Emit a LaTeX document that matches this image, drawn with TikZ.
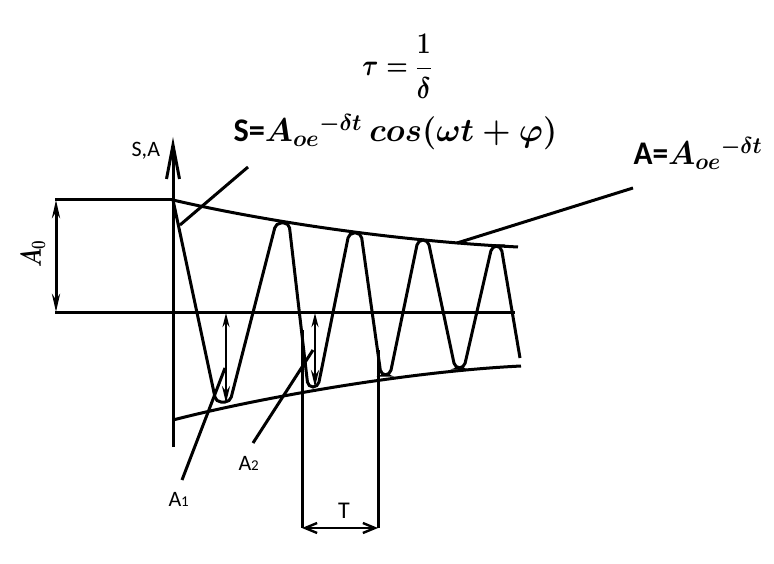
\RequirePackage{fix-cm}
\documentclass[tikz,border=0pt]{standalone}
\usepackage{fontspec}
\setmainfont{Carlito}
\usetikzlibrary{arrows.meta}
\newcommand\subdig[1]{{\fontsize{15}{15}\selectfont #1}}
\begin{document}
\begin{tikzpicture}[x=1pt, y=-1pt, line width=3pt,
    cota/.style={{Stealth[length=18pt,width=8pt]}-{Stealth[length=18pt,width=8pt]}},
    cotachica/.style={line width=2.4pt, {Stealth[length=14pt,width=7pt]}-{Stealth[length=17pt,width=8pt]}},
    formula/.style={font=\fontsize{33}{36}\selectfont\bfseries\boldmath, inner sep=0pt},
    etiqueta/.style={font=\fontsize{22}{24}\selectfont, inner sep=0pt}]

    \useasboundingbox (0,0) rectangle (774,564);

    % Ejes
    \draw[-{Straight Barb[length=34pt,width=13pt]}] (173,447) -- (173,137);
    \draw (55,312) -- (515,312);
    \draw (55,200) -- (173,200);

    % Envolventes
    \draw (173,200) .. controls (250,218) and (380,240) .. (518,247);
    \draw (173,420) .. controls (250,400) and (400,372) .. (521,366);

    % Oscilacion amortiguada
    \draw[rounded corners=5pt] (173,200) -- (216,402) -- (230,402)
      -- (276,223) -- (289,223) -- (308,387) -- (318,387)
      -- (349,233) -- (361,233) -- (381,375) -- (390,375)
      -- (418,240) -- (428,240) -- (455,368) -- (464,368)
      -- (492,246) -- (501,246) -- (520,358);

    % Cotas
    \draw[cota] (56,200) -- (56,312);
    \draw[cotachica] (226,313) -- (226,403);
    \draw[cotachica] (315,313) -- (315,387);
    \draw (302,330) -- (302,528);
    \draw (378,350) -- (378,528);
    \draw[line width=2.4pt, {Straight Barb[length=12pt,width=10pt]}-{Straight Barb[length=12pt,width=10pt]}]
      (302,528) -- (378,528);

    % Etiquetas
    \node[formula, font=\fontsize{30}{32}\selectfont\bfseries\boldmath] (tau) at (397,66)
      {\scalebox{0.82}[1]{$\tau = {\displaystyle\frac{1}{\delta}}$}};
    \node[formula, anchor=base west] (fS) at (232,142)
      {\scalebox{0.98}[1]{S=$A_{oe}{}^{-\delta t}\ cos(\omega t+\varphi)$}};
    \node[formula, anchor=base west] (fA) at (632,165)
      {\scalebox{0.95}[1]{A=$A_{oe}{}^{-\delta t}$}};
    \node[etiqueta, anchor=base west] (SA) at (130,157) {S,A};
    \node[formula, font=\fontsize{29}{30}\selectfont\boldmath, rotate=90] (A0) at (33,254)
      {\scalebox{0.75}[1]{$A_0$}};
    \node[etiqueta, anchor=base west] (A1) at (167,506) {A\subdig{1}};
    \node[etiqueta, anchor=base west] (A2) at (237,470) {A\subdig{2}};
    \node[etiqueta, font=\fontsize{24}{26}\selectfont] (T) at (344,511) {T};

    % Lineas de referencia
    \coordinate (pS) at (248,167);
    \coordinate (pA) at (633,188);
    \coordinate (p1) at (182,480);
    \coordinate (p2) at (253,443);
    \draw (pS) -- (180,225);
    \draw (pA) -- (457,243);
    \draw (p1) -- (225,368);
    \draw (p2) -- (313,350);

\end{tikzpicture}
\end{document}
